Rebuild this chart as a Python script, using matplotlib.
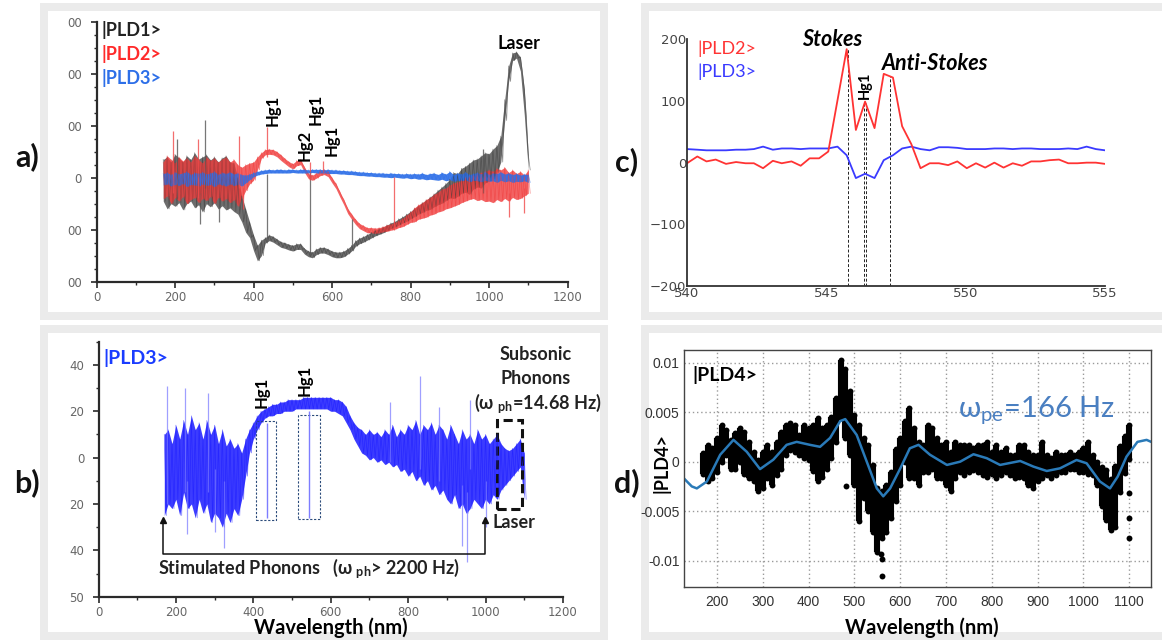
import numpy as np
import matplotlib
matplotlib.use("Agg")
import matplotlib.pyplot as plt
from matplotlib.patches import Rectangle
from matplotlib import font_manager as fm
from matplotlib.ticker import MultipleLocator

W, H = 1162, 641
_names = {f.name for f in fm.fontManager.ttflist}
ANN = "Lato" if "Lato" in _names else "DejaVu Sans"
NARROW = "Liberation Sans Narrow" if "Liberation Sans Narrow" in _names else "Liberation Sans"
plt.rcParams["font.family"] = [ANN, "DejaVu Sans"]
plt.rcParams["mathtext.fontset"] = "custom"
plt.rcParams["mathtext.rm"] = ANN
plt.rcParams["mathtext.bf"] = ANN + ":bold"
plt.rcParams["mathtext.it"] = ANN + ":italic"

# ------------------------------------------------------------------ data
wl = np.arange(170, 1101, 10)  # sampling grid (nm)

# panel a : noise envelopes (lower / upper) of each trace
a_blk_hi = [35, 40, 30, 45, 38, 30, 42, 35, 48, 36,
            40, 44, 34, 40, 30, 38, 42, 30, 28, 0,
            -35, -60, -85, -110, -130, -120, -115, -110, -113, -118,
            -123, -125, -128, -130, -127, -127, -136, -141, -143, -137,
            -134, -134, -137, -141, -143, -143, -141, -136, -130, -121,
            -116, -113, -109, -105, -101, -98, -95, -91, -87, -84,
            -79, -75, -70, -65, -59, -54, -48, -43, -37, -31,
            -24, -18, -11, -3, 10, 8, 18, 22, 28, 34,
            36, 42, 48, 46, 55, 62, 80, 150, 215, 240,
            242, 232, 170, 45]
a_blk_lo = [-45, -60, -50, -55, -48, -62, -50, -45, -58, -52,
            -66, -50, -56, -48, -60, -54, -62, -58, -65, -70,
            -85, -105, -115, -140, -160, -150, -126, -121, -124, -129,
            -134, -136, -139, -141, -138, -138, -147, -152, -154, -148,
            -145, -145, -148, -152, -154, -154, -152, -147, -141, -132,
            -127, -124, -120, -116, -112, -109, -106, -102, -98, -95,
            -91, -87, -84, -79, -75, -70, -67, -63, -61, -56,
            -52, -49, -44, -39, -40, -36, -30, -28, -32, -22,
            -18, -20, -10, -6, -2, 10, 30, 110, 185, 225,
            230, 205, 120, 15]
a_red_hi = [30, 42, 35, 28, 40, 32, 38, 30, 42, 35,
            28, 40, 33, 38, 30, 36, 40, 30, 35, 25,
            20, 25, 28, 30, 40, 48, 54, 55, 54, 50,
            44, 37, 31, 27, 33, 35, 20, 8, 5, 9,
            14, 16, 12, 0, -11, -27, -42, -59, -70, -80,
            -88, -92, -96, -96, -97, -96, -94, -91, -89, -86,
            -82, -78, -72, -66, -58, -52, -48, -42, -38, -32,
            -28, -22, -20, -14, -10, -8, -5, 0, 2, 5,
            8, 10, 12, 15, 12, 18, 15, 20, 10, 15,
            8, 12, 5, 15]
a_red_lo = [-40, -35, -50, -38, -45, -36, -50, -42, -38, -48,
            -40, -44, -36, -50, -38, -45, -40, -48, -42, -55,
            -40, -25, -12, -5, 15, 37, 44, 45, 44, 40,
            33, 27, 21, 17, 23, 25, 10, -2, -5, -1,
            4, 6, 2, -10, -21, -37, -52, -69, -80, -90,
            -98, -102, -106, -106, -107, -106, -104, -103, -101, -99,
            -96, -94, -90, -86, -85, -80, -78, -76, -72, -70,
            -66, -64, -60, -58, -55, -52, -48, -45, -42, -40,
            -44, -42, -46, -45, -48, -42, -46, -40, -45, -38,
            -42, -40, -35, -30]
a_blu_hi = [8, 10, 6, 11, 7, 9, 12, 6, 10, 8,
            11, 7, 9, 12, 6, 10, 8, 11, 7, 9,
            6, 5, 7, 10, 12, 14, 15, 16, 15, 16,
            16, 15, 16, 16, 15, 16, 16, 15, 16, 16,
            16, 15, 16, 15, 15, 14, 14, 13, 13, 12,
            11, 11, 10, 10, 9, 9, 9, 8, 9, 8,
            8, 7, 8, 7, 8, 7, 9, 6, 8, 9,
            6, 10, 7, 12, 6, 9, 7, 11, 6, 8,
            10, 7, 12, 6, 9, 8, 11, 7, 9, 6,
            8, 5, 7, 6]
a_blu_lo = [-14, -12, -16, -13, -15, -11, -17, -13, -14, -16,
            -12, -15, -13, -17, -12, -14, -16, -12, -15, -13,
            -16, -10, -4, 2, 5, 7, 8, 9, 9, 9,
            9, 9, 9, 10, 9, 9, 9, 9, 10, 9,
            9, 9, 8, 8, 8, 7, 7, 6, 6, 5,
            4, 4, 3, 3, 2, 2, 1, 1, 0, 1,
            0, -1, 0, -2, -1, -3, -2, -4, -3, -4,
            -5, -3, -6, -4, -7, -5, -6, -4, -8, -5,
            -6, -8, -5, -7, -6, -9, -5, -8, -6, -9,
            -7, -8, -6, -9]
# isolated spikes (wavelength, from, to)
a_blk_spk = [(205, -40, 75), (264, -90, -30), (276, -20, 110), (312, -85, -40),
             (435, -118, 8), (545, -150, 12), (651, -140, -80), (985, -30, 55)]
a_red_spk = [(196, -30, 90), (258, -40, 75), (363, -20, 80), (372, -60, -20),
             (435, 40, 98), (545, -5, 30), (577, 10, 32), (759, -100, 2),
             (1050, -30, -75), (1090, -20, -68)]
a_yticklabels = ["00", "00", "0", "00", "00", "00"]

# panel b : |PLD3> envelopes
b_hi = [10, 12, 6, 14, 8, 16, 10, 18, 12, 15,
        8, 16, 10, 14, 6, 12, 5, 8, 4, 6,
        2, 8, 12, 15, 18, 20, 21, 22, 23, 23,
        24, 24, 25, 25, 25, 25, 26, 26, 26, 26,
        26, 26, 26, 26, 25, 25, 24, 22, 18, 15,
        13, 12, 10, 12, 10, 11, 9, 12, 10, 14,
        9, 12, 10, 14, 12, 16, 10, 14, 12, 15,
        10, 14, 12, 8, 14, 10, 6, 12, 8, 10,
        6, 12, 8, 10, 6, 8, 10, 6, 4, 3,
        4, 6, 8, 2]
b_lo = [-25, -20, -22, -18, -25, -15, -22, -20, -26, -18,
        -24, -20, -28, -24, -26, -30, -24, -28, -22, -25,
        -18, -8, 2, 8, 12, 15, 17, 18, 18, 19,
        19, 20, 20, 20, 21, 21, 21, 21, 21, 21,
        21, 21, 21, 20, 20, 19, 18, 15, 12, 8,
        5, 2, 1, -1, 0, -2, -1, -3, -2, -4,
        -3, -6, -5, -8, -6, -10, -8, -12, -10, -14,
        -12, -16, -14, -18, -20, -16, -22, -20, -24, -22,
        -18, -20, -22, -18, -20, -16, -18, -14, -12, -10,
        -8, -6, -4, -18]
b_spk = [(176, -20, 31), (224, -15, 30), (229, -33, -10), (284, -15, 28), (300, -32, -5),
         (324, -39, -10), (752, -2, 24), (830, -5, 35), (880, -10, 22), (940, -38, -12),
         (951, -45, -15), (959, -5, 25), (1000, -30, -10)]
b_hg = [(435, -26, 15), (545, -26, 20)]
b_yticks = [-60, -40, -20, 0, 20, 40]
b_yticklabels = ["50", "40", "20", "0", "20", "40"]

# panel c : zoom 540-555 nm
c_x = [540.0, 540.37, 540.7, 541.03, 541.4, 541.76, 542.1, 542.4, 542.73, 543.08,
       543.4, 543.75, 544.08, 544.4, 544.74, 545.07, 545.4, 545.73, 546.06, 546.39,
       546.73, 547.06, 547.39, 547.72, 548.05, 548.38, 548.71, 549.04, 549.37, 549.7,
       550.04, 550.37, 550.7, 551.03, 551.36, 551.69, 552.02, 552.35, 552.68, 553.01,
       553.35, 553.68, 554.01, 554.34, 554.67, 555.0]
c_red = [-1, 10, 2, 5, -2, 1, -1, -1, -9, 3,
         -1, 2, -5, 7, 7, 18, 101, 184, 53, 99,
         56, 144, 138, 59, 30, -9, -1, -1, -4, 2,
         -9, -1, -8, 0, -8, -1, -5, 2, 2, 4,
         5, -1, -1, 0, 0, -2]
c_blue = [22, 21, 20, 20, 20, 21, 21, 22, 26, 21,
          23, 23, 22, 23, 23, 23, 26, 12, -25, -18,
          -25, 4, 12, 23, 26, 22, 20, 25, 25, 24,
          22, 22, 22, 23, 23, 22, 23, 23, 22, 22,
          22, 23, 22, 26, 22, 20]
c_marks_x = [545.76, 546.36, 546.42, 547.28]
c_marks_top = [184, 99, 99, 140]

# panel d : |PLD4> (values in 1e-3)
d_hi = [0.85, 1.7, 1.35, 2.4, 3.7, 3.2, 2.2, 2.9, 3.4, 3.0,
        2.0, 1.0, 0.2, 1.0, 1.7, 1.0, 2.0, 3.0, 3.7, 3.9,
        3.7, 2.7, 3.7, 3.4, 3.7, 4.4, 3.4, 3.7, 4.5, 6.4,
        10.3, 9.4, 7.1, 4.7, 3.7, 2.4, 1.7, -0.3, -2.7, -3.0,
        -2.4, -1.0, 1.3, 2.4, 4.1, 5.4, 3.4, 2.0, 1.7, 3.7,
        3.4, 2.4, 1.7, 2.0, 1.0, 2.0, 1.7, 1.7, 1.7, 1.35,
        1.7, 1.7, 2.0, 1.0, 1.7, 1.0, 1.35, 0.7, 0.7, 1.7,
        1.7, 1.0, 0.7, 0.7, 2.0, 0.7, 0.35, 1.0, 0.7, 0.7,
        1.0, 0.7, 1.0, 1.35, 2.0, 0.7, 0.0, -0.5, -0.8, -1.8,
        -0.4, 1.6, 2.6, 3.7]
d_lo = [-1.2, -2.0, -1.7, -1.0, 0.0, 0.7, -0.7, -0.7, 0.0, -1.2,
        -1.7, -2.0, -3.0, -2.7, -1.7, -2.35, -1.35, -0.7, 0.7, 1.2,
        1.0, 0.7, 0.35, 0.2, -0.9, -2.0, -1.5, -0.7, 0.35, 2.0,
        4.4, 2.4, 0.7, -2.4, -6.0, -3.7, -5.0, -7.1, -9.1, -7.7,
        -7.1, -5.7, -4.0, -2.4, 0.0, -1.7, -1.7, -2.35, -1.0, -1.0,
        -0.7, -1.7, -1.7, -2.35, -3.0, -1.7, -1.0, -1.35, -1.0, -0.85,
        -1.0, -1.35, -1.5, -1.2, -1.7, -1.35, -1.0, -1.35, -1.7, -1.5,
        -1.7, -2.35, -2.7, -2.0, -1.7, -1.35, -1.7, -1.35, -1.0, -1.0,
        -0.7, -0.7, -1.0, -1.0, -1.2, -1.35, -2.35, -4.5, -5.9, -6.9,
        -6.6, -3.1, -1.1, 0.3]
d_out_x = [481, 557, 560, 560, 1100, 1100, 1100]
d_out_y = [-2.5, -9.3, -9.8, -11.5, -3.2, -5.7, -7.7]
d_fit_x = [128, 145, 156, 178, 207, 236, 265, 294, 323, 352, 374, 403, 425, 447, 469,
           480, 505, 527, 549, 563, 578, 600, 621, 640, 665, 702, 731, 760, 789, 818,
           862, 891, 920, 949, 985, 1007, 1036, 1058, 1075, 1094, 1118, 1138, 1148]
d_fit_y = [-1.7, -2.5, -2.7, -2.0, 0.7, 2.2, 1.0, -0.75, 0.2, 1.7, 2.0, 1.7, 1.5, 2.4, 4.1,
           4.3, 2.7, 0.0, -2.7, -3.5, -2.7, -0.7, 1.35, 1.7, 0.7, -0.33, 0.0, 0.75, 0.35, -0.33,
           0.07, -0.5, -0.94, -0.67, 0.17, -0.16, -2.0, -2.7, -1.5, 0.5, 2.0, 2.2, 2.0]
D_SCALE = 1e-3
d_yticks = [-0.01, -0.005, 0, 0.005, 0.01]
d_yticklabels = ["-0.01", "-0.005", "0", "0.005", "0.01"]

# ------------------------------------------------------------------ figure
fig = plt.figure(figsize=(W / 100, H / 100), dpi=100)


def rect(l, t, r, b):
    return [l / W, 1 - b / H, (r - l) / W, (b - t) / H]


bg = fig.add_axes([0, 0, 1, 1], zorder=-10)
bg.set_xlim(0, W)
bg.set_ylim(H, 0)
bg.axis("off")
for (l, t, r, b) in [(40, 3, 608, 320), (40, 325, 608, 640), (641, 3, 1172, 320), (641, 325, 1172, 640)]:
    bg.add_patch(Rectangle((l + 4, t + 4), r - l - 8, b - t - 8, facecolor="white",
                           edgecolor="#ebebeb", lw=5.76))
for txt, x, y in [("a)", 27, 157), ("b)", 27, 483), ("c)", 627, 162), ("d)", 627, 483)]:
    bg.text(x, y, txt, ha="center", va="center", fontsize=22, weight="bold", color="#111")
bg.text(331, 628, "Wavelength (nm)", ha="center", va="center", fontsize=14.5, weight="bold")
bg.text(922, 628, "Wavelength (nm)", ha="center", va="center", fontsize=14.5, weight="bold")
bg.text(661, 463, "|PLD4>", ha="center", va="center", rotation=90, fontsize=13, weight="bold")


def band(ax, lo, hi, col, alpha=0.85, lw=0.5):
    """Noise band: fill between the lower/upper readings plus a thin zig-zag texture."""
    lo = np.asarray(lo, float)
    hi = np.asarray(hi, float)
    ax.fill_between(wl, lo, hi, color=col, alpha=alpha, lw=0)
    zx = np.column_stack([wl, wl + 5]).ravel()
    zy = np.column_stack([hi, lo]).ravel()
    ax.plot(zx, zy, color=col, lw=lw, alpha=0.6)


def spikes(ax, lst, col, lw=0.9, alpha=0.8):
    ax.vlines([s[0] for s in lst], [s[1] for s in lst], [s[2] for s in lst],
              colors=col, lw=lw, alpha=alpha)


def classic_axes(ax):
    for s in ("top", "right"):
        ax.spines[s].set_visible(False)
    for s in ("left", "bottom"):
        ax.spines[s].set_linewidth(1.6)
        ax.spines[s].set_color("#2a2a2a")
    ax.patch.set_visible(False)
    ax.tick_params(which="major", length=4, width=1.2, color="#2a2a2a",
                   labelsize=8.5, labelcolor="#666666")
    ax.tick_params(which="minor", length=2.5, width=1.0, color="#2a2a2a")
    for lab in ax.get_xticklabels() + ax.get_yticklabels():
        lab.set_family("DejaVu Sans")


# ---------------- panel a
axa = fig.add_axes(rect(96.5, 21.7, 567.5, 281.7))
axa.set_xlim(0, 1200)
axa.set_ylim(-200, 300)
band(axa, a_blk_lo, a_blk_hi, "#3c3c3c", alpha=0.75)
spikes(axa, a_blk_spk, "#555555")
band(axa, a_red_lo, a_red_hi, "#f03c3c", alpha=0.8)
spikes(axa, a_red_spk, "#f04a4a")
band(axa, a_blu_lo, a_blu_hi, "#2d6fe8", alpha=0.9)
axa.set_xticks(range(0, 1201, 200))
axa.xaxis.set_minor_locator(MultipleLocator(100))
axa.set_yticks([-200, -100, 0, 100, 200, 300])
axa.set_yticklabels(a_yticklabels)
axa.yaxis.set_minor_locator(MultipleLocator(25))
classic_axes(axa)
axa.tick_params(axis="y", which="major", pad=6.8)
axa.tick_params(axis="x", which="major", pad=3)
for txt, y, col in [("|PLD1>", 283.6, "#222222"), ("|PLD2>", 238.5, "#ff2a2a"), ("|PLD3>", 192, "#2d6fe8")]:
    axa.text(13, y, txt, color=col, fontsize=13, weight="bold", ha="left", va="center")
axa.text(1077, 258, "Laser", ha="center", va="center", fontsize=13, weight="bold")
for txt, x, y in [("Hg1", 450, 129), ("Hg2", 531, 63), ("Hg1", 559, 132), ("Hg1", 598, 71)]:
    axa.text(x, y, txt, rotation=90, ha="center", va="center", fontsize=12, weight="bold")

# ---------------- panel b
axb = fig.add_axes(rect(98.5, 341.7, 562.9, 596.7))
axb.set_xlim(0, 1200)
axb.set_ylim(-60, 50)
band(axb, b_lo, b_hi, "#1a1aff", alpha=0.85, lw=0.5)
spikes(axb, b_spk, "#7777ff", lw=0.9, alpha=0.7)
spikes(axb, b_hg, "#6f6fff", lw=1.0, alpha=0.9)
axb.set_xticks(range(0, 1201, 200))
axb.xaxis.set_minor_locator(MultipleLocator(100))
axb.set_yticks(b_yticks)
axb.set_yticklabels(b_yticklabels)
axb.yaxis.set_minor_locator(MultipleLocator(10))
classic_axes(axb)
axb.tick_params(axis="y", which="major", pad=6.3)
axb.tick_params(axis="x", which="major", pad=2.4)
axb.add_patch(Rectangle((406, -27), 53, 43, fill=False, ec="#2a4a7a", lw=0.8, ls=(0, (2, 1.5))))
axb.add_patch(Rectangle((515, -26.4), 57, 44.7, fill=False, ec="#2a4a7a", lw=0.8, ls=(0, (2, 1.5))))
axb.add_patch(Rectangle((1030, -22), 64, 38.4, fill=False, ec="#111111", lw=2.2, ls=(0, (3, 1.5))))
axb.plot([167, 167, 999, 999], [-27, -41.4, -41.4, -27], color="#111111", lw=1.1)
axb.plot([167, 999], [-27, -27], ls="none", marker="^", ms=5, color="#111111")
axb.text(13, 42.9, "|PLD3>", color="#1a3cff", fontsize=14, weight="bold", ha="left", va="center")
axb.text(421.7, 28.2, "Hg1", rotation=90, ha="center", va="center", fontsize=12, weight="bold")
axb.text(533.6, 33.3, "Hg1", rotation=90, ha="center", va="center", fontsize=12, weight="bold")
axb.text(1128.5, 44.6, "Subsonic", ha="center", va="center", fontsize=13, weight="bold", color="#222")
axb.text(1128.5, 34, "Phonons", ha="center", va="center", fontsize=13, weight="bold", color="#222")
axb.text(969, 23.1, r"(ω $_{\mathbf{ph}}$=14.68 Hz)", ha="left", va="center", fontsize=13,
         weight="bold", color="#222")
axb.text(1019, -27.9, "Laser", ha="left", va="center", fontsize=13, weight="bold", color="#222")
axb.text(154, -47.8, r"Stimulated Phonons   (ω $_{\mathbf{ph}}$> 2200 Hz)", ha="left", va="center",
         fontsize=13, weight="bold", color="#222")

# ---------------- panel c
axc = fig.add_axes(rect(687, 39.3, 1105, 286))
axc.set_xlim(540, 555)
axc.set_ylim(-200, 200)
for s in ("top", "right"):
    axc.spines[s].set_visible(False)
for s in ("left", "bottom"):
    axc.spines[s].set_linewidth(1.3)
    axc.spines[s].set_color("#333333")
axc.patch.set_visible(False)
axc.set_xticks([540, 545, 550, 555])
axc.set_yticks([-200, -100, 0, 100, 200])
axc.tick_params(length=0, labelsize=9.5, labelcolor="#444444", pad=0.5)
for lab in axc.get_xticklabels() + axc.get_yticklabels():
    lab.set_family("DejaVu Sans")
axc.vlines(c_marks_x, -200, c_marks_top, colors="#222222", lw=0.7, ls=(0, (3, 2)))
axc.plot(c_x, c_blue, color="#3a3aff", lw=1.3)
axc.plot(c_x, c_red, color="#ff3333", lw=1.3)
axc.text(545.2, 199, "Stokes", ha="center", va="center", fontsize=15.5, weight="bold", style="italic")
axc.text(548.9, 161, "Anti-Stokes", ha="center", va="center", fontsize=15.5, weight="bold", style="italic")
axc.text(546.39, 125, "Hg1", rotation=90, ha="center", va="center", fontsize=10.5, weight="bold")
axc.text(540.37, 185, "|PLD2>", color="#ff3333", fontsize=13, ha="left", va="center")
axc.text(540.37, 147.6, "|PLD3>", color="#3a3aff", fontsize=13, ha="left", va="center")

# ---------------- panel d
axd = fig.add_axes(rect(684.1, 350, 1151.1, 586.7))
axd.set_xlim(128.2, 1147.8)
axd.set_ylim(-0.01263, 0.01128)
axd.set_axisbelow(True)
axd.grid(True, ls=(0, (1, 2)), color="#9a9a9a", lw=1.0)
dhi = np.array(d_hi) * D_SCALE
dlo = np.array(d_lo) * D_SCALE
axd.vlines(wl, dlo, dhi, color="black", lw=4.4)
axd.scatter(wl, dhi, s=18, color="black", lw=0)
axd.scatter(wl, dlo, s=18, color="black", lw=0)
axd.scatter(d_out_x, np.array(d_out_y) * D_SCALE, s=18, color="black", lw=0)
axd.plot(d_fit_x, np.array(d_fit_y) * D_SCALE, color="#2a7ab8", lw=1.8)
axd.set_xticks(range(200, 1101, 100))
axd.set_yticks(d_yticks)
axd.set_yticklabels(d_yticklabels)
axd.tick_params(length=0, labelsize=10, labelcolor="#333333")
axd.tick_params(axis="x", pad=6.3)
axd.tick_params(axis="y", pad=3.4)
for lab in axd.get_xticklabels() + axd.get_yticklabels():
    lab.set_family(NARROW)
for s in axd.spines.values():
    s.set_color("#444444")
    s.set_linewidth(1.0)
axd.patch.set_visible(False)
axd.text(145.4, 0.00876, "|PLD4>", fontsize=14, weight="bold", ha="left", va="center")
axd.text(727, 0.0052, r"ω$_{\mathrm{pe}}$=166 Hz", color="#4a7fc1", fontsize=21,
         ha="left", va="center")

fig.savefig("out.png", dpi=100)
